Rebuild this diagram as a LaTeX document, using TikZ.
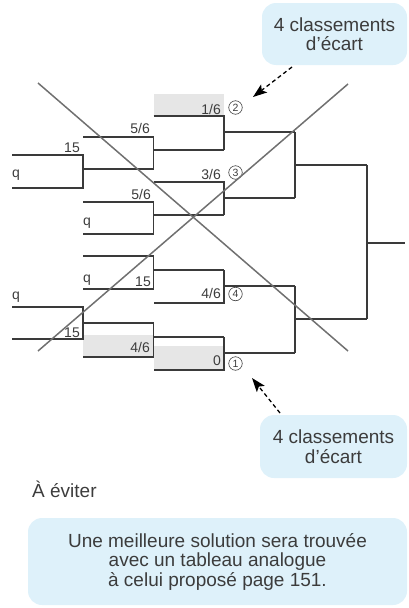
\documentclass[tikz,border=0pt]{standalone}
\usepackage{fontspec}
\setmainfont{Liberation Sans}
\usetikzlibrary{arrows.meta,calc}
\definecolor{ink}{HTML}{3C3C3C}
\definecolor{lineC}{HTML}{3A3A3A}
\definecolor{crossC}{HTML}{707070}
\definecolor{boxgray}{HTML}{E6E6E6}
\definecolor{callblue}{HTML}{DEF1FA}
\begin{document}
\begin{tikzpicture}[x=1pt,y=-1pt,
  br/.style={draw=lineC,line width=1.3pt},
  lab/.style={inner sep=0,anchor=base east,text=ink,font=\fontsize{14}{14}\selectfont},
  labq/.style={inner sep=0,anchor=base west,text=ink,font=\fontsize{14}{14}\selectfont},
  rank/.style={circle,draw=ink,line width=0.6pt,inner sep=0,minimum size=13.5pt,text=ink,font=\fontsize{10.5}{10.5}\selectfont},
  callout/.style={fill=callblue,rounded corners=14pt,inner sep=0,align=center,text=ink,font=\fontsize{19}{19.5}\selectfont},
  plain/.style={inner sep=0,anchor=base west,text=ink,font=\fontsize{19}{19.5}\selectfont},
  dasharrow/.style={draw=black,line width=1.3pt,dash pattern=on 4pt off 3pt,-{Stealth[length=14pt,width=10pt,inset=3pt]}},
  cross/.style={draw=crossC,line width=1.5pt}]
\useasboundingbox (0,0) rectangle (408,608);
% gray boxes
\fill[boxgray] (154,94) rectangle (224,116);
\fill[boxgray] (83,335) rectangle (153.5,357);
\fill[boxgray] (154,346) rectangle (224,370);
% bracket top half
\draw[br] (12,155) -| (83,188) -- (12,188);
\draw[br] (83,137) -| (153.5,169) -- (83,169);
\draw[br] (153.5,150) -- (224,150);
\draw[br] (153.5,116) -| (224,150);
\draw[br] (224,132) -- (295,132);
\draw[br] (83,202) -| (153.5,234) -- (83,234);
\draw[br] (153.5,215) -- (224,215);
\draw[br] (153.5,182) -| (224,215);
\draw[br] (224,198) -- (295,198);
\draw[br] (295,132) -- (295,198);
\draw[br] (295,165) -- (367,165);
% bracket bottom half
\draw[br] (83,256) -| (153.5,289) -- (83,289);
\draw[br] (153.5,270) -- (224,270);
\draw[br] (224,270) -- (224,303) -- (153.5,303);
\draw[br] (224,286) -- (295,286);
\draw[br] (12,307) -| (83,339) -- (12,339);
\draw[br] (83,323) -- (153.5,323) -- (153.5,357) -- (83,357);
\draw[br] (153.5,337) -- (224,337);
\draw[br] (224,337) -- (224,370) -- (153.5,370);
\draw[br] (224,353) -- (295,353);
\draw[br] (295,286) -- (295,353);
\draw[br] (295,319) -- (367,319);
\draw[br] (367,165) -- (367,319);
\draw[br] (367,243) -- (405,243);
% labels
\node[lab] (l16) at (221,114) {1/6};
\node[rank] (r2) at (235.5,107.5) {2};
\node[lab] (l36) at (221,179) {3/6};
\node[rank] (r3) at (235.5,172.5) {3};
\node[lab] (l46b) at (221,298) {4/6};
\node[rank] (r4) at (235.5,294) {4};
\node[lab] (l0) at (221,365) {0};
\node[rank] (r1) at (235.5,363.5) {1};
\node[lab] (l56a) at (150,133) {5/6};
\node[lab] (l15a) at (80,152) {15};
\node[labq] (qa) at (12,177) {q};
\node[lab] (l56b) at (151,199) {5/6};
\node[labq] (qb) at (83,225) {q};
\node[labq] (qc) at (83,282) {q};
\node[lab] (l15b) at (151,286) {15};
\node[labq] (qd) at (12,299) {q};
\node[lab] (l15c) at (80,337) {15};
\node[lab] (l46a) at (150,352) {4/6};
% crossing lines
\coordinate (xa1) at (38,83);
\coordinate (xa2) at (348,351);
\coordinate (xb1) at (38,351);
\coordinate (xb2) at (348,84);
\draw[cross] (xa1) -- (xa2);
\draw[cross] (xb1) -- (xb2);
% callouts
\node[callout,minimum width=145pt,minimum height=62pt] (c1) at (334.5,34) {4 classements\\d’écart};
\node[callout,minimum width=147pt,minimum height=63pt] (c2) at (333.5,446.5) {4 classements\\d’écart};
\node[callout,minimum width=379pt,minimum height=87pt] (c3) at (217.5,561.5) {Une meilleure solution sera trouvée\\avec un tableau analogue\\à celui proposé page 151.};
\node[plain] (avoid) at (32,497) {À éviter};
% arrows
\coordinate (s1) at (292,67);
\coordinate (t1) at (253,97);
\coordinate (s2) at (280,413);
\coordinate (t2) at (252,378);
\draw[dasharrow] (s1) -- (t1);
\draw[dasharrow] (s2) -- (t2);
\end{tikzpicture}
\end{document}
